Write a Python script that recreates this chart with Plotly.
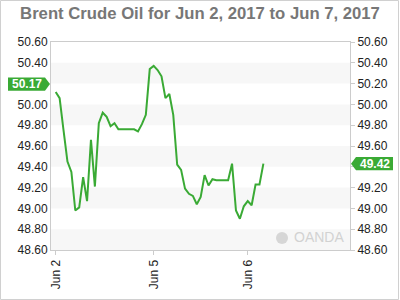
import plotly.graph_objects as go

# ---- data (hours of trading since Jun 2 00:00, Brent price) ----
hours = list(range(0, 54))
prices = [50.12, 50.06, 49.75, 49.45, 49.35, 48.98, 49.01, 49.30, 49.07, 49.66,
          49.21, 49.82, 49.92, 49.88, 49.79, 49.82, 49.76, 49.76, 49.76, 49.76,
          49.76, 49.74, 49.81, 49.90, 50.34, 50.37, 50.33, 50.27, 50.06, 50.10,
          49.90, 49.42, 49.37, 49.19, 49.14, 49.12, 49.04, 49.11, 49.32, 49.22,
          49.28, 49.27, 49.27, 49.27, 49.27, 49.43, 48.98, 48.90, 49.02, 49.07,
          49.03, 49.23, 49.23, 49.43]
tick_hours = [0, 25, 49]
tick_labels = ["Jun 2", "Jun 5", "Jun 6"]
y_ticks = [48.6, 48.8, 49.0, 49.2, 49.4, 49.6, 49.8, 50.0, 50.2, 50.4, 50.6]
open_label = 50.17
last_label = 49.42
title = "Brent Crude Oil for Jun 2, 2017 to Jun 7, 2017"

GREEN = "#3aaa35"
FONT = "Liberation Sans, Arial, sans-serif"

# pixel geometry helpers (plot area 51..350 x 42..250)
L, R, T, B = 51, 350, 42, 250
def px(x):
    return (x - L) / (R - L)
def py(y):
    return (B - y) / (B - T)

# tick labels hidden behind the price tags
def labels_without(hidden):
    return ["" if abs(v - hidden) < 0.1 else f"{v:.2f}" for v in y_ticks]

fig = go.Figure()
fig.add_trace(go.Scatter(x=hours, y=prices, mode="lines",
                         line=dict(color=GREEN, width=2), hoverinfo="skip",
                         showlegend=False))
fig.add_trace(go.Scatter(x=hours, y=prices, mode="lines", yaxis="y2",
                         line=dict(color="rgba(0,0,0,0)", width=0),
                         hoverinfo="skip", showlegend=False))

shapes = []
# alternating bands
for i in range(0, len(y_ticks) - 1, 2):
    shapes.append(dict(type="rect", xref="paper", yref="y", x0=0, x1=1,
                       y0=y_ticks[i], y1=y_ticks[i + 1],
                       fillcolor="#f7f7f7", line=dict(width=0), layer="below"))
# outer frame
shapes.append(dict(type="rect", xref="paper", yref="paper",
                   x0=px(0.5), x1=px(398.5), y0=py(299.5), y1=py(0.5),
                   line=dict(color="#d0d0d0", width=1)))
# price tags
h = 0.064
oy = open_label + 0.025
shapes.append(dict(type="path", xref="paper", yref="y",
                   path=(f"M {px(8)},{oy-h} L {px(45)},{oy-h} "
                         f"L {px(50)},{oy} L {px(45)},{oy+h} "
                         f"L {px(8)},{oy+h} Z"),
                   fillcolor=GREEN, line=dict(width=0)))
ly = last_label + 0.01
shapes.append(dict(type="path", xref="paper", yref="y",
                   path=(f"M {px(351)},{ly} L {px(356)},{ly-h} "
                         f"L {px(393)},{ly-h} L {px(393)},{ly+h} "
                         f"L {px(356)},{ly+h} Z"),
                   fillcolor=GREEN, line=dict(width=0)))
# watermark logo circle
shapes.append(dict(type="circle", xref="paper", yref="paper",
                   x0=px(276), x1=px(288), y0=py(244), y1=py(232),
                   fillcolor="#d6d6d6", line=dict(width=0), layer="below"))

annotations = [
    dict(xref="paper", yref="y", x=px(26.5), y=oy, text=f"<b>{open_label:.2f}</b>",
         showarrow=False, font=dict(family=FONT, size=12, color="white"),
         xanchor="center", yanchor="middle"),
    dict(xref="paper", yref="y", x=px(374.5), y=ly, text=f"<b>{last_label:.2f}</b>",
         showarrow=False, font=dict(family=FONT, size=12, color="white"),
         xanchor="center", yanchor="middle"),
    dict(xref="paper", yref="paper", x=px(319), y=py(237), text="OANDA",
         showarrow=False, font=dict(family=FONT, size=14, color="#d2d2d2"),
         xanchor="center", yanchor="middle"),
]

axis_font = dict(family=FONT, size=12, color="#222")
fig.update_layout(
    width=400, height=300,
    margin=dict(l=L, r=400 - R, t=T, b=300 - B, pad=0),
    paper_bgcolor="white", plot_bgcolor="white",
    title=dict(text=f"<b>{title}</b>", x=0.5, xref="container", xanchor="center",
               y=1 - 13 / 300, yref="container", yanchor="middle",
               font=dict(family=FONT, size=16.7, color="#777777")),
    xaxis=dict(range=[-1.2, 75.1], tickvals=tick_hours, ticktext=tick_labels,
               tickangle=-90, ticks="outside", ticklen=4, tickcolor="#ccc",
               showline=True, linecolor="#ccc", mirror=True, showgrid=False,
               zeroline=False, tickfont=axis_font),
    yaxis=dict(range=[48.6, 50.6], tickvals=y_ticks,
               ticktext=labels_without(open_label),
               ticks="", showline=True, linecolor="#ccc", mirror=True,
               showgrid=False, zeroline=False, tickfont=axis_font),
    yaxis2=dict(range=[48.6, 50.6], tickvals=y_ticks,
                ticktext=labels_without(last_label),
                overlaying="y", side="right", ticks="outside", ticklen=4,
                tickcolor="#ccc", showline=False, showgrid=False,
                zeroline=False, tickfont=axis_font),
    shapes=shapes, annotations=annotations, showlegend=False,
)

fig.write_html("out.html")
